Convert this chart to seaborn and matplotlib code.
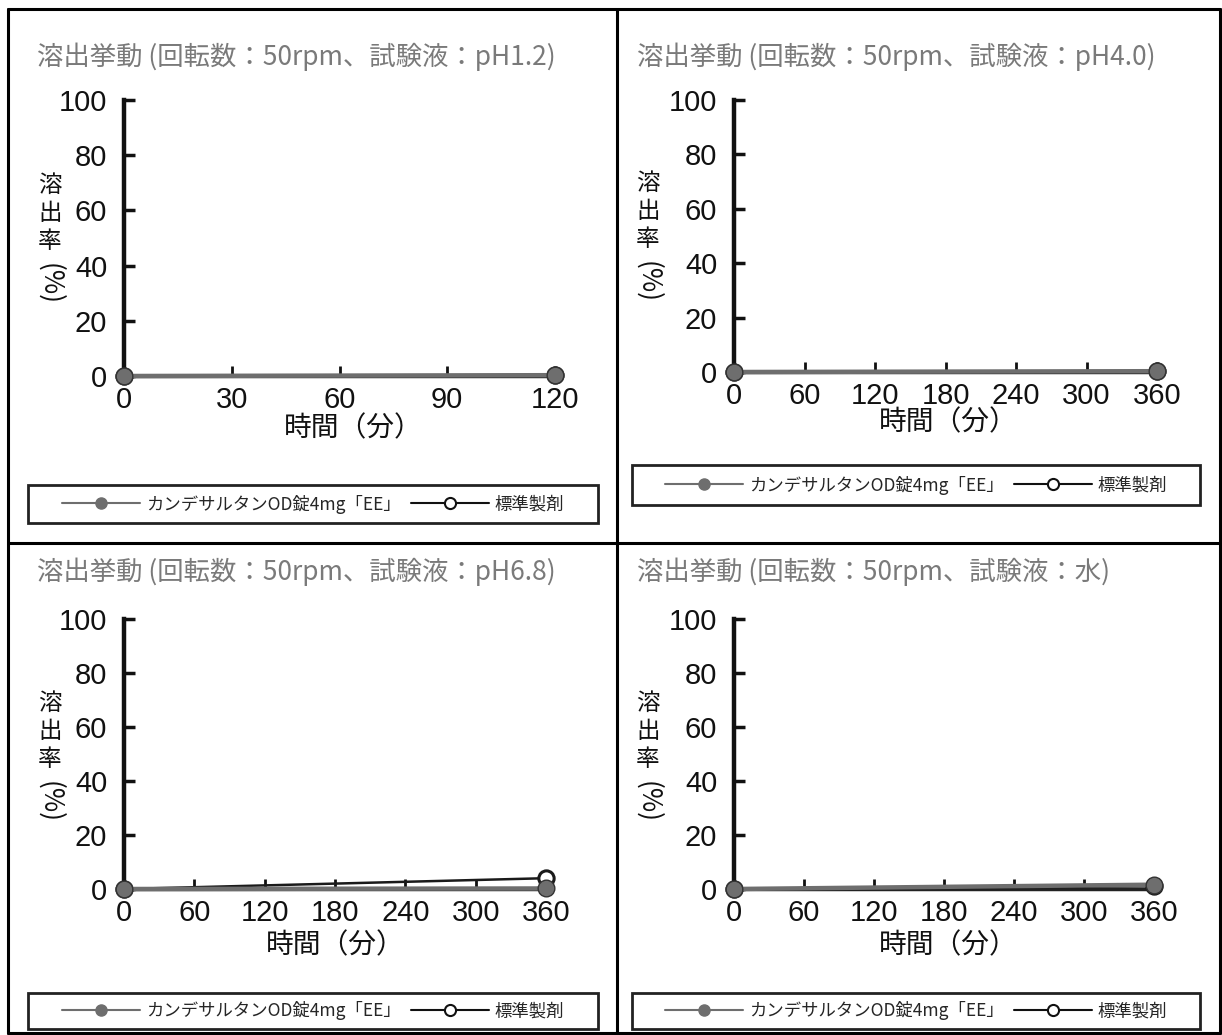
import seaborn as sns
import pandas as pd
import matplotlib
matplotlib.use('Agg')
import matplotlib.pyplot as plt
from matplotlib.lines import Line2D
from matplotlib.patches import Rectangle

# 各試験液の溶出データ（時間：分、溶出率：%）
titles = ['溶出挙動 (回転数：50rpm、試験液：pH1.2)',
          '溶出挙動 (回転数：50rpm、試験液：pH4.0)',
          '溶出挙動 (回転数：50rpm、試験液：pH6.8)',
          '溶出挙動 (回転数：50rpm、試験液：水)']
times_120 = [0, 120]
times_360 = [0, 360]
test_ph12 = [0, 0.3]
ref_ph12 = [0, 0.2]
test_ph40 = [0, 0.3]
ref_ph40 = [0, 0.2]
test_ph68 = [0, 0.2]
ref_ph68 = [0, 4.0]
test_water = [0, 1.6]
ref_water = [0, 1.0]
xticks_120 = [0, 30, 60, 90, 120]
xticks_360 = [0, 60, 120, 180, 240, 300, 360]
yticks = [0, 20, 40, 60, 80, 100]
test_name = 'カンデサルタンOD錠4mg「EE」'
ref_name = '標準製剤'

sns.set_theme(style='white')
plt.rcParams['font.family'] = ['Noto Sans CJK JP', 'DejaVu Sans']

W, H = 1222, 1035
fig = plt.figure(figsize=(W / 100, H / 100), dpi=100)


def fx(x):
    return x / W


def fy(y):
    return 1 - y / H


# 表の罫線
for x0, y0, x1, y1 in [(8, 9, 1220, 9), (8, 9, 8, 1033), (1220, 9, 1220, 1033),
                       (8, 1033, 1220, 1033), (617, 9, 617, 1033), (8, 543, 1220, 543)]:
    fig.add_artist(Line2D([fx(x0), fx(x1)], [fy(y0), fy(y1)], color='black', lw=2.2))

# 上端の見切れた見出し
fig.text(fx(25), fy(-9), '＜溶出挙動の比較＞', color='#888888', fontsize=14, va='center', ha='left')

panels = [
    dict(t=times_120, test=test_ph12, ref=ref_ph12, xt=xticks_120, ax=(124, 555, 100, 376),
         title=(37, 57), yl=(50, 185), xl=(353, 428), leg=(28, 598, 485, 523)),
    dict(t=times_360, test=test_ph40, ref=ref_ph40, xt=xticks_360, ax=(734, 1157, 100, 372),
         title=(637, 57), yl=(648, 183), xl=(948, 422), leg=(632, 1200, 465, 505)),
    dict(t=times_360, test=test_ph68, ref=ref_ph68, xt=xticks_360, ax=(124, 546, 619, 889),
         title=(37, 572), yl=(50, 703), xl=(335, 945), leg=(28, 598, 993, 1029)),
    dict(t=times_360, test=test_water, ref=ref_water, xt=xticks_360, ax=(734, 1154, 619, 889),
         title=(637, 572), yl=(648, 703), xl=(948, 945), leg=(632, 1200, 993, 1029)),
]

for p, title in zip(panels, titles):
    x0, x1, ytop, ybot = p['ax']
    ax = fig.add_axes([fx(x0), fy(ybot), (x1 - x0) / W, (ybot - ytop) / H])
    df = pd.DataFrame({'time': p['t'], 'test': p['test'], 'ref': p['ref']})

    # 標準製剤（黒線・白丸）
    sns.lineplot(data=df, x='time', y='ref', ax=ax, color='#1a1a1a', linewidth=1.8,
                 marker='o', markersize=11, markerfacecolor='white', markeredgecolor='#1a1a1a',
                 markeredgewidth=2.2, clip_on=False, zorder=4)
    # 試験製剤（灰線・灰丸）
    sns.lineplot(data=df, x='time', y='test', ax=ax, color='#6e6e6e', linewidth=3.2,
                 marker='o', markersize=12, markerfacecolor='#6e6e6e', markeredgecolor='#333333',
                 markeredgewidth=1.0, clip_on=False, zorder=5)

    ax.set_xlim(p['t'][0], p['t'][-1])
    ax.set_ylim(0, 100)
    ax.set_xticks(p['xt'])
    ax.set_yticks(yticks)
    ax.set_xlabel('')
    ax.set_ylabel('')
    for s in ['top', 'right']:
        ax.spines[s].set_visible(False)
    ax.spines['left'].set_linewidth(3.2)
    ax.spines['left'].set_color('#111111')
    ax.spines['bottom'].set_linewidth(2.5)
    ax.spines['bottom'].set_color('#222222')
    ax.tick_params(axis='y', direction='in', length=8, width=2.5, pad=12,
                   labelsize=21, colors='#111111', left=True)
    ax.tick_params(axis='x', direction='in', length=7, width=2, pad=7,
                   labelsize=21, colors='#111111', bottom=True)
    for lab in ax.get_xticklabels() + ax.get_yticklabels():
        lab.set_family('Liberation Sans')
    ax.patch.set_alpha(0)

    # タイトル
    fig.text(fx(p['title'][0]), fy(p['title'][1]), title, color='#7a7a7a',
             fontsize=19, ha='left', va='center')
    # 縦書きの軸ラベル
    lx, ly = p['yl']
    for i, ch in enumerate('溶出率'):
        fig.text(fx(lx), fy(ly + i * 28), ch, fontsize=17, ha='center', va='center',
                 color='#111111')
    fig.text(fx(lx), fy(ly + 99), '(%)', fontsize=19, ha='center', va='center',
             rotation=-90, color='#111111')
    fig.text(fx(p['xl'][0]), fy(p['xl'][1]), '時間（分）', fontsize=20, ha='center',
             va='center', color='#111111')

    # 凡例の枠
    bx0, bx1, by0, by1 = p['leg']
    fig.add_artist(Rectangle((fx(bx0), fy(by1)), (bx1 - bx0) / W, (by1 - by0) / H,
                             transform=fig.transFigure, fill=False, edgecolor='#222222', lw=2))
    handles = [Line2D([], [], color='#6e6e6e', lw=1.5, marker='o', markersize=8,
                      markerfacecolor='#6e6e6e', markeredgecolor='#6e6e6e'),
               Line2D([], [], color='#111111', lw=1.5, marker='o', markersize=8,
                      markerfacecolor='white', markeredgecolor='#111111', markeredgewidth=1.5)]
    fig.legend(handles, [test_name, ref_name], loc='center',
               bbox_to_anchor=(fx((bx0 + bx1) / 2), fy((by0 + by1) / 2)),
               ncol=2, frameon=False, fontsize=12.5, handlelength=4.5, handletextpad=0.3,
               columnspacing=0.6, borderpad=0)

fig.savefig('out.png', dpi=100)
